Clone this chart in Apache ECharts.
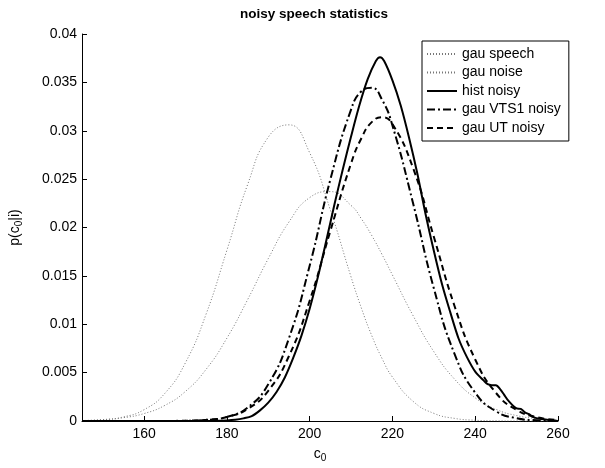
<!DOCTYPE html>
<html>
<head>
<meta charset="utf-8">
<script src="https://cdn.jsdelivr.net/npm/echarts@6/dist/echarts.min.js"></script>
<style>
  html, body { margin: 0; padding: 0; background: #fff; }
  #chart { width: 605px; height: 468px; }
</style>
</head>
<body>
<div id="chart"></div>
<script>
// c0 grid for the fitted gaussians (denser near the noisy peaks)
const c0 = [145, 150, 155, 160, 165, 170, 175, 180, 185, 190, 195, 200, 205, 210,
            212.5, 215, 217.5, 220, 225, 230, 235, 240, 245, 250, 255, 260]

// wide dotted curve
const gauSpeech = [0.00005, 0.00014, 0.00034, 0.00077, 0.00161, 0.00306, 0.00535, 0.00856,
                   0.01253, 0.01678, 0.02057, 0.02309, 0.02371, 0.02228,
                   0.0209, 0.01917, 0.0172, 0.01509, 0.01088, 0.00717, 0.00433, 0.00239,
                   0.00121, 0.00056, 0.00024, 0.00009]
// narrow dotted curve
const gauNoise = [0.00003, 0.00013, 0.00042, 0.00117, 0.00285, 0.00603, 0.01107, 0.01764,
                  0.02442, 0.02934, 0.03061, 0.02773, 0.02181, 0.01489,
                  0.01167, 0.00883, 0.00645, 0.00454, 0.00203, 0.00079, 0.00027, 0.00008,
                  0.00002, 0, 0, 0]
const gauVts1 = [0, 0, 0, 0, 0.000004, 0.00002, 0.00011, 0.00042,
                 0.00139, 0.00379, 0.00856, 0.01605, 0.02496, 0.03219,
                 0.03408, 0.03444, 0.0332, 0.03055, 0.02248, 0.01372, 0.00694, 0.00292,
                 0.00101, 0.00029, 0.00007, 0.00001]
const gauUt = [0, 0, 0, 0, 0.000007, 0.00003, 0.00012, 0.00042,
               0.00124, 0.00312, 0.00672, 0.01242, 0.01964, 0.02662,
               0.02923, 0.03089, 0.0314, 0.0307, 0.02613, 0.01904, 0.01189, 0.00636,
               0.00291, 0.00114, 0.00038, 0.00011]

// histogram of noisy c0 (finer grid, keeps the wiggles in the tail)
const histC0 = [145, 150, 155, 160, 165, 170, 174, 176, 178, 180, 182, 184, 186, 188, 190,
                192, 194, 196, 198, 200, 202, 204, 206, 208, 210, 212, 214, 216, 217, 218,
                220, 222, 224, 226, 228, 230, 232, 234, 236, 238,
                240, 242, 243, 244, 245, 246, 247, 248, 250, 251, 252, 253, 254, 256, 258, 260]
const histNoisy = [0, 0, 0, 0, 0, 0, 0, 0.00001, 0.00003, 0.00006, 0.00013, 0.00027, 0.0005, 0.0011, 0.0019,
                   0.003, 0.0045, 0.0065, 0.0088, 0.0116, 0.0149, 0.0186, 0.0224, 0.026, 0.0294, 0.0326, 0.0353, 0.0372, 0.0376, 0.0372,
                   0.0352, 0.0326, 0.0293, 0.0256, 0.0214, 0.0176, 0.0141, 0.0112, 0.0085, 0.0066,
                   0.0051, 0.0042, 0.0038, 0.0037, 0.0037, 0.0033, 0.0027, 0.0021, 0.0013, 0.00125, 0.0009, 0.0007, 0.0004, 0.0002, 0.0001, 0]

const xTicks = [160, 180, 200, 220, 240, 260]

const FONT = 'Liberation Sans'
const pairs = (xs, ys) => xs.map((x, i) => [x, ys[i]])

const chart = echarts.init(document.getElementById('chart'), null, { renderer: 'canvas' })

const line = (name, xs, ys, style, smooth) => ({
  name,
  type: 'line',
  data: pairs(xs, ys),
  symbol: 'none',
  smooth,
  animation: false,
  lineStyle: style,
  itemStyle: { color: style.color },
})

chart.setOption({
  backgroundColor: '#fff',
  textStyle: { fontFamily: FONT },
  title: {
    text: 'noisy speech statistics',
    left: 309,
    top: 2,
    textAlign: 'center',
    textStyle: { fontFamily: FONT, fontSize: 13.5, fontWeight: 'bold', color: '#000' },
  },
  legend: {
    orient: 'vertical',
    left: 422,
    top: 41,
    padding: [5, 8, 5, 4],
    backgroundColor: '#fff',
    borderColor: '#000',
    borderWidth: 1,
    itemWidth: 30,
    itemHeight: 10,
    itemGap: 2.5,
    itemStyle: { opacity: 0 },
    textStyle: { fontFamily: FONT, fontSize: 14, color: '#000', lineHeight: 16 },
    data: ['gau speech', 'gau noise', 'hist noisy', 'gau VTS1 noisy', 'gau UT noisy'],
  },
  grid: { left: 81, right: 47, top: 34, bottom: 41 },
  xAxis: {
    type: 'value',
    min: 145,
    max: 260,
    name: '{c|c}{s|0}',
    nameLocation: 'middle',
    nameGap: 24,
    nameTextStyle: {
      rich: {
        c: { fontFamily: FONT, fontSize: 14, color: '#000' },
        s: { fontFamily: FONT, fontSize: 10, color: '#000', verticalAlign: 'bottom', padding: [8, 0, 0, 0] },
      },
    },
    axisLine: { onZero: false, lineStyle: { color: '#000', width: 1 } },
    axisTick: { inside: true, length: 5, customValues: xTicks, lineStyle: { color: '#000' } },
    axisLabel: { customValues: xTicks, color: '#000', fontSize: 14, fontFamily: FONT, margin: 6 },
    splitLine: { show: false },
  },
  yAxis: {
    type: 'value',
    min: 0,
    max: 0.04,
    interval: 0.005,
    name: '{c|p(c}{s|0}{c||i)}',
    nameLocation: 'middle',
    nameGap: 58,
    nameRotate: 90,
    nameTextStyle: {
      rich: {
        c: { fontFamily: FONT, fontSize: 14, color: '#000' },
        s: { fontFamily: FONT, fontSize: 10, color: '#000', verticalAlign: 'bottom', padding: [8, 0, 0, 0] },
      },
    },
    axisLine: { show: true, lineStyle: { color: '#000', width: 1 } },
    axisTick: { show: true, inside: true, length: 5, lineStyle: { color: '#000' } },
    axisLabel: { color: '#000', fontSize: 14, fontFamily: FONT, margin: 5 },
    splitLine: { show: false },
  },
  series: [
    line('gau speech', c0, gauSpeech, { color: '#777', width: 1, type: [1, 2] }, 0.5),
    line('gau noise', c0, gauNoise, { color: '#777', width: 1, type: [1, 2] }, 0.5),
    line('hist noisy', histC0, histNoisy, { color: '#000', width: 2 }, 0.3),
    line('gau VTS1 noisy', c0, gauVts1, { color: '#000', width: 2, type: [8, 3, 2, 3] }, 0.5),
    line('gau UT noisy', c0, gauUt, { color: '#000', width: 2, type: [6, 4] }, 0.5),
  ],
})
</script>
</body>
</html>
